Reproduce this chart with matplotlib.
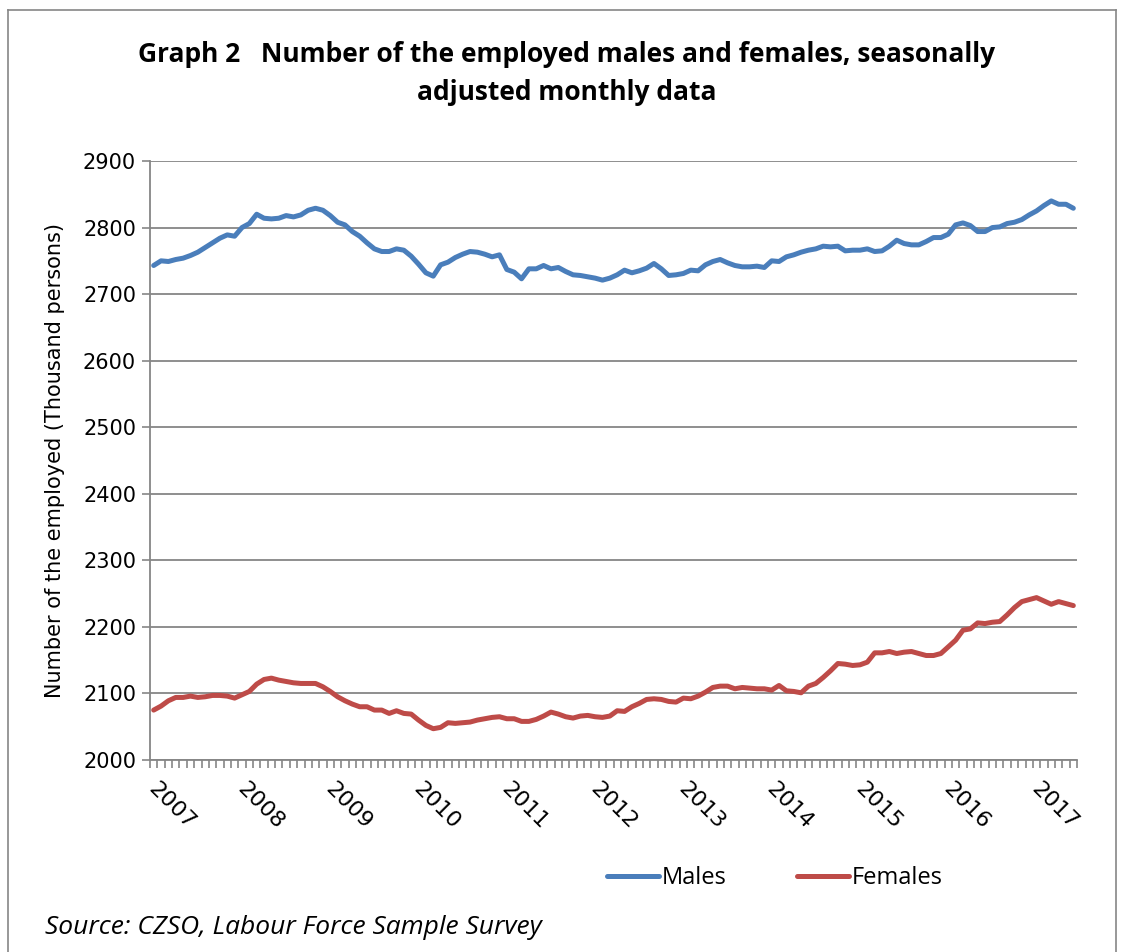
import matplotlib
matplotlib.use("Agg")
import matplotlib.pyplot as plt
import matplotlib.transforms as mtransforms
from matplotlib.lines import Line2D
from matplotlib.ticker import MultipleLocator, FixedLocator, NullFormatter

# monthly data, Jan 2007 - Jun 2017 (thousand persons)
males = [2743, 2750, 2749, 2752, 2754, 2758, 2763, 2770, 2777, 2784, 2789, 2787,
         2800, 2806, 2820, 2814, 2813, 2814, 2818, 2816, 2819, 2826, 2829, 2826,
         2818, 2808, 2804, 2794, 2787, 2777, 2768, 2764, 2764, 2768, 2766, 2757,
         2745, 2732, 2727, 2744, 2748, 2755, 2760, 2764, 2763, 2760, 2756, 2759,
         2737, 2733, 2723, 2738, 2738, 2743, 2738, 2740, 2734, 2729, 2728, 2726,
         2724, 2721, 2724, 2729, 2736, 2732, 2735, 2739, 2746, 2738, 2728, 2729,
         2731, 2736, 2735, 2744, 2749, 2752, 2747, 2743, 2741, 2741, 2742, 2740,
         2750, 2749, 2756, 2759, 2763, 2766, 2768, 2772, 2771, 2772, 2765, 2766,
         2766, 2768, 2764, 2765, 2772, 2781, 2776, 2774, 2774, 2779, 2785, 2785,
         2790, 2804, 2807, 2803, 2794, 2794, 2800, 2801, 2806, 2808, 2812, 2819,
         2825, 2833, 2840, 2835, 2835, 2829]
females = [2075, 2081, 2089, 2094, 2094, 2096, 2094, 2095, 2097, 2097, 2096, 2093,
           2098, 2103, 2114, 2121, 2123, 2120, 2118, 2116, 2115, 2115, 2115, 2110,
           2103, 2095, 2089, 2084, 2080, 2080, 2075, 2075, 2070, 2074, 2070, 2069,
           2060, 2052, 2047, 2049, 2056, 2055, 2056, 2057, 2060, 2062, 2064, 2065,
           2062, 2062, 2058, 2058, 2061, 2066, 2072, 2069, 2065, 2063, 2066, 2067,
           2065, 2064, 2066, 2074, 2073, 2080, 2085, 2091, 2092, 2091, 2088, 2087,
           2093, 2092, 2096, 2102, 2109, 2111, 2111, 2107, 2109, 2108, 2107, 2107,
           2105, 2112, 2104, 2103, 2101, 2111, 2115, 2124, 2134, 2145, 2144, 2142,
           2143, 2147, 2161, 2161, 2163, 2160, 2162, 2163, 2160, 2157, 2157, 2160,
           2170, 2180, 2195, 2197, 2206, 2205, 2207, 2208, 2218, 2229, 2238, 2241,
           2244, 2239, 2234, 2238, 2235, 2232]
years = [str(y) for y in range(2007, 2018)]

narrow = ["Liberation Sans Narrow", "Open Sans", "DejaVu Sans"]
grey = "#868686"

fig = plt.figure(figsize=(11.23, 9.52), dpi=100)
ax = fig.add_axes([150 / 1123, 1 - 760 / 952, 927 / 1123, 599 / 952])

x = list(range(len(males)))
ax.plot(x, males, color="#4A7EBB", lw=3.6, solid_capstyle="round", label="Males")
ax.plot(x, females, color="#BE4B48", lw=3.6, solid_capstyle="round", label="Females")

ax.set_xlim(-0.5, len(males) - 0.5)
ax.set_ylim(2000, 2900)
ax.yaxis.set_major_locator(MultipleLocator(100))
ax.grid(axis="y", color=grey, lw=1.3)
ax.set_axisbelow(True)

# category axis: a small tick at every month boundary, year labels under January
ax.xaxis.set_major_locator(FixedLocator([12 * k - 0.5 for k in range(len(years))]))
ax.xaxis.set_minor_locator(FixedLocator([k - 0.5 for k in range(len(males) + 1)]))
ax.xaxis.set_minor_formatter(NullFormatter())
ax.set_xticklabels(years, rotation=-45, ha="left", va="top", rotation_mode="anchor")
ax.tick_params(axis="x", which="both", length=6, width=1.2, color=grey,
               labelsize=16, pad=9)
ax.tick_params(axis="y", length=6, width=1.2, color=grey, labelsize=15, pad=4)
shift = mtransforms.ScaledTranslation(9 / 100, 2 / 100, fig.dpi_scale_trans)
for lab in ax.get_xticklabels():
    lab.set_transform(lab.get_transform() + shift)

for side in ("top", "right"):
    ax.spines[side].set_visible(False)
for side in ("left", "bottom"):
    ax.spines[side].set_color(grey)
    ax.spines[side].set_linewidth(1.3)

ax.set_ylabel("Number of the employed (Thousand persons)", fontsize=15, labelpad=13)

fig.text(567 / 1123, 1 - 55 / 952,
         "Graph 2   Number of the employed males and females, seasonally",
         ha="center", va="center", fontsize=19, fontweight="bold", family=narrow)
fig.text(567 / 1123, 1 - 93 / 952, "adjusted monthly data",
         ha="center", va="center", fontsize=19, fontweight="bold", family=narrow)

fig.legend(loc="center", bbox_to_anchor=(775 / 1123, 1 - 878 / 952), ncol=2,
           frameon=False, prop={"family": narrow, "size": 17},
           handlelength=2.2, handletextpad=0.1, columnspacing=3.0)

fig.text(45 / 1123, 1 - 928 / 952, "Source: CZSO, Labour Force Sample Survey",
         ha="left", va="center", fontsize=19, style="italic", family=narrow)

# outer chart frame
for xs, ys in (([8, 8], [0, 10]), ([8, 1116], [10, 10]), ([1116, 1116], [10, 0])):
    fig.add_artist(Line2D([v / 1123 for v in xs], [1 - v / 952 if v else 0 for v in ys],
                          transform=fig.transFigure, color=grey, lw=1.2))

fig.savefig("out.png", dpi=100)
